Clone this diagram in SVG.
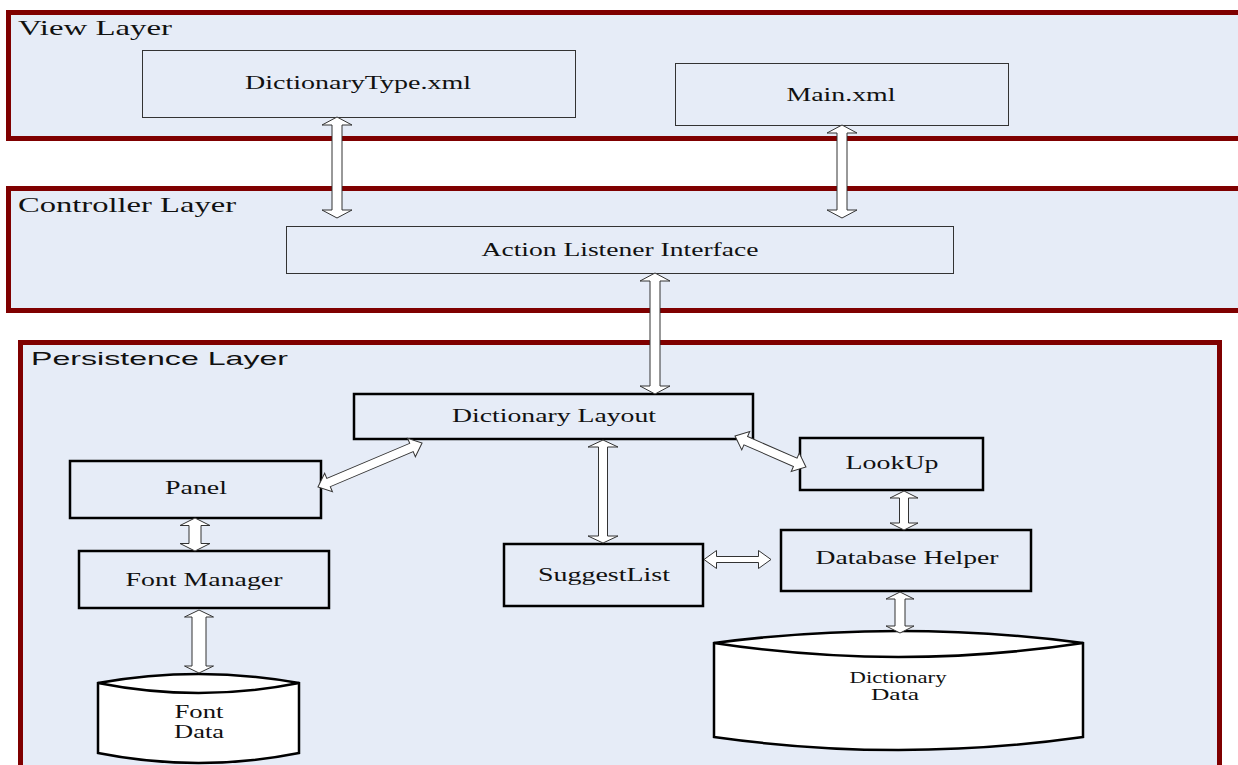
<svg xmlns="http://www.w3.org/2000/svg" width="1238" height="765" viewBox="0 0 1238 765">
<style>
.layer{fill:#E6ECF7;stroke:#7F0000;stroke-width:5}
.lt{font-family:"Liberation Serif",serif;font-size:22px;fill:#111}
.ls{font-family:"Liberation Sans",sans-serif;font-size:19px;fill:#111}
.thin{fill:#E6ECF7;stroke:#333;stroke-width:1}
.thick{fill:#E6ECF7;stroke:#000;stroke-width:2.5}
.db{fill:#fff;stroke:#000;stroke-width:2.5}
.nt{font-family:"Liberation Serif",serif;font-size:18px;fill:#111;text-anchor:middle}
.ct{font-family:"Liberation Serif",serif;font-size:16px;fill:#111;text-anchor:middle}
.arr{fill:#fff;stroke:#333;stroke-width:1}
</style>
<rect width="1238" height="765" fill="#fff"/>
<g id="view-layer">
<rect class="layer" x="8.5" y="12.5" width="1240" height="126"/>
<text class="lt" x="18" y="35" textLength="154" lengthAdjust="spacingAndGlyphs">View Layer</text>
</g>
<g id="controller-layer">
<rect class="layer" x="8.5" y="188.5" width="1240" height="122"/>
<text class="lt" x="18" y="212" textLength="218" lengthAdjust="spacingAndGlyphs">Controller Layer</text>
</g>
<g id="persistence-layer">
<rect class="layer" x="20.5" y="342.5" width="1199" height="440"/>
<text class="ls" x="31" y="365" textLength="257" lengthAdjust="spacingAndGlyphs">Persistence Layer</text>
</g>
<g id="dictionarytype">
<rect class="thin" x="142.5" y="50.5" width="433" height="67"/>
<text class="nt" x="358" y="89" textLength="226" lengthAdjust="spacingAndGlyphs">DictionaryType.xml</text>
</g>
<g id="main">
<rect class="thin" x="675.5" y="63.5" width="333" height="62"/>
<text class="nt" x="841" y="101" textLength="109" lengthAdjust="spacingAndGlyphs">Main.xml</text>
</g>
<g id="action-listener">
<rect class="thin" x="286.5" y="226.5" width="667" height="47"/>
<text class="nt" x="620" y="256" textLength="277" lengthAdjust="spacingAndGlyphs">Action Listener Interface</text>
</g>
<g id="dictionary-layout">
<rect class="thick" x="354" y="394" width="399" height="45"/>
<text class="nt" x="554" y="422" textLength="204" lengthAdjust="spacingAndGlyphs">Dictionary Layout</text>
</g>
<g id="panel">
<rect class="thick" x="70" y="461" width="251" height="57"/>
<text class="nt" x="196" y="494" textLength="62" lengthAdjust="spacingAndGlyphs">Panel</text>
</g>
<g id="font-manager">
<rect class="thick" x="79" y="551" width="250" height="57"/>
<text class="nt" x="204" y="586" textLength="157" lengthAdjust="spacingAndGlyphs">Font Manager</text>
</g>
<g id="suggestlist">
<rect class="thick" x="504" y="544" width="199" height="62"/>
<text class="nt" x="604" y="581" textLength="132" lengthAdjust="spacingAndGlyphs">SuggestList</text>
</g>
<g id="lookup">
<rect class="thick" x="800" y="438" width="183" height="52"/>
<text class="nt" x="892" y="469" textLength="93" lengthAdjust="spacingAndGlyphs">LookUp</text>
</g>
<g id="database-helper">
<rect class="thick" x="781" y="530" width="250" height="61"/>
<text class="nt" x="907" y="564" textLength="183" lengthAdjust="spacingAndGlyphs">Database Helper</text>
</g>
<g id="font-data">
<path class="db" d="M98,683 Q198.5,665 299,683 L299,753 Q198.5,773 98,753 Z"/>
<path d="M98,683 Q198.5,703 299,683" fill="none" stroke="#000" stroke-width="2.5"/>
<text class="nt" x="199" y="718" textLength="49" lengthAdjust="spacingAndGlyphs">Font</text>
<text class="nt" x="199" y="738" textLength="50" lengthAdjust="spacingAndGlyphs">Data</text>
</g>
<g id="dictionary-data">
<path class="db" d="M714,643 Q898.5,619 1083,643 L1083,737 Q898.5,763 714,737 Z"/>
<path d="M714,643 Q898.5,671 1083,643" fill="none" stroke="#000" stroke-width="2.5"/>
<text class="ct" x="898" y="683" textLength="97" lengthAdjust="spacingAndGlyphs">Dictionary</text>
<text class="ct" x="895" y="700" textLength="48" lengthAdjust="spacingAndGlyphs">Data</text>
</g>
<g id="connectors">
<path class="arr" transform="translate(337,167.5) rotate(90)" d="M-50.5,0 L-42.5,-15 L-42.5,-5 L42.5,-5 L42.5,-15 L50.5,0 L42.5,15 L42.5,5 L-42.5,5 L-42.5,15 Z"/>
<path class="arr" transform="translate(842,171.5) rotate(90)" d="M-46.5,0 L-38.5,-15 L-38.5,-5 L38.5,-5 L38.5,-15 L46.5,0 L38.5,15 L38.5,5 L-38.5,5 L-38.5,15 Z"/>
<path class="arr" transform="translate(655,333.5) rotate(90)" d="M-60.5,0 L-52.5,-15 L-52.5,-5 L52.5,-5 L52.5,-15 L60.5,0 L52.5,15 L52.5,5 L-52.5,5 L-52.5,15 Z"/>
<path class="arr" transform="translate(603,491.5) rotate(90)" d="M-51.5,0 L-44.5,-15 L-44.5,-4.5 L44.5,-4.5 L44.5,-15 L51.5,0 L44.5,15 L44.5,4.5 L-44.5,4.5 L-44.5,15 Z"/>
<path class="arr" transform="translate(370,465) rotate(-22.9)" d="M-56.5,0 L-45,-10 L-45,-4.5 L45,-4.5 L45,-10 L56.5,0 L45,10 L45,4.5 L-45,4.5 L-45,10 Z"/>
<path class="arr" transform="translate(770.5,451.5) rotate(23.6)" d="M-38.7,0 L-27,-10 L-27,-4.5 L27,-4.5 L27,-10 L38.7,0 L27,10 L27,4.5 L-27,4.5 L-27,10 Z"/>
<path class="arr" transform="translate(737.5,559.5)" d="M-33.5,0 L-21,-9 L-21,-3 L21,-3 L21,-9 L33.5,0 L21,9 L21,3 L-21,3 L-21,9 Z"/>
<path class="arr" transform="translate(904,510.5) rotate(90)" d="M-19.5,0 L-12.5,-14 L-12.5,-4.5 L12.5,-4.5 L12.5,-14 L19.5,0 L12.5,14 L12.5,4.5 L-12.5,4.5 L-12.5,14 Z"/>
<path class="arr" transform="translate(195,534.5) rotate(90)" d="M-16.5,0 L-9,-15 L-9,-6 L9,-6 L9,-15 L16.5,0 L9,15 L9,6 L-9,6 L-9,15 Z"/>
<path class="arr" transform="translate(199,641.5) rotate(90)" d="M-31.5,0 L-24.5,-14.5 L-24.5,-7 L24.5,-7 L24.5,-14.5 L31.5,0 L24.5,14.5 L24.5,7 L-24.5,7 L-24.5,14.5 Z"/>
<path class="arr" transform="translate(900,612.5) rotate(90)" d="M-20.5,0 L-13.5,-14 L-13.5,-5 L13.5,-5 L13.5,-14 L20.5,0 L13.5,14 L13.5,5 L-13.5,5 L-13.5,14 Z"/>
</g>
</svg>
